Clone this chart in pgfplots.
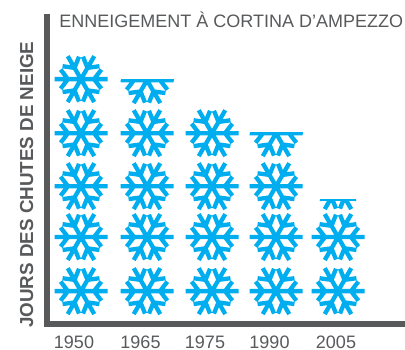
\documentclass[border=0pt]{standalone}
\usepackage{pgfplots}
\pgfplotsset{compat=1.18}
\usepackage{fontspec}
\setmainfont{Liberation Sans}
\definecolor{flakeblue}{HTML}{00AEEF}
\definecolor{bargray}{HTML}{58595B}
\newcommand{\flakespoke}[3]{%
  \pgfpathmoveto{\pgfpointorigin}\pgfpathlineto{\pgfpointpolar{#1}{26.5pt}}%
  \pgfpathmoveto{\pgfpointpolar{#1}{13pt}}\pgfpathlineto{\pgfpointpolar{#2}{22.5pt}}%
  \pgfpathmoveto{\pgfpointpolar{#1}{13pt}}\pgfpathlineto{\pgfpointpolar{#3}{22.5pt}}%
}
\newcommand{\flakeshape}{%
  \pgfsetstrokecolor{flakeblue}\pgfsetlinewidth{4.3pt}\pgfsetbuttcap
  \flakespoke{0}{25}{-25}%
  \flakespoke{60}{85}{35}%
  \flakespoke{120}{145}{95}%
  \flakespoke{180}{205}{155}%
  \flakespoke{240}{265}{215}%
  \flakespoke{300}{325}{275}%
  \pgfusepath{stroke}%
}
\newcommand{\cutat}[1]{%
  \pgfpathrectangle{\pgfpoint{-30pt}{-30pt}}{\pgfpoint{60pt}{\dimexpr30pt+#1\relax}}\pgfusepath{clip}%
}
\pgfdeclareplotmark{flake}{\flakeshape}
\pgfdeclareplotmark{halfflake}{%
  \pgfscope\cutat{0pt}\flakeshape\endpgfscope
  \pgfsetfillcolor{flakeblue}%
  \pgfpathrectangle{\pgfpoint{-26.5pt}{-1.2pt}}{\pgfpoint{53pt}{2.5pt}}\pgfusepath{fill}%
}
\pgfdeclareplotmark{tipflake}{%
  \pgfscope\cutat{-14pt}\flakeshape\endpgfscope
  \pgfsetfillcolor{flakeblue}%
  \pgfpathrectangle{\pgfpoint{-18pt}{-15.2pt}}{\pgfpoint{36pt}{2.4pt}}\pgfusepath{fill}%
}
\begin{document}
\begin{tikzpicture}[x=1pt,y=1pt]
\path[use as bounding box] (0,0) rectangle (405,349);
\begin{axis}[
  at={(47pt,25pt)},anchor=origin,
  scale only axis,width=358pt,height=307pt,
  xmin=47,xmax=405,ymin=0,ymax=5.792,
  clip=false,
  axis x line*=bottom,axis y line*=left,
  axis line style={line width=6.5pt,color=bargray,-,line cap=rect},
  xtick={74,140.5,205,269.5,336},
  xticklabels={1950,1965,1975,1990,2005},
  ytick=\empty,
  major tick length=0pt,
  xticklabel style={font=\fontsize{18}{20}\selectfont,text=bargray,inner sep=0pt,anchor=base,yshift=-24.5pt},
  title={ENNEIGEMENT À CORTINA D’AMPEZZO},
  title style={at={(axis description cs:0.034,1)},anchor=north west,inner sep=0pt,yshift=-1pt,
    font=\fontsize{18}{20}\selectfont,text=bargray},
  ylabel={\textbf{JOURS DES CHUTES DE NEIGE}},
  ylabel style={at={(axis description cs:-0.057,0.454)},anchor=center,rotate=0,inner sep=0pt,
    font=\fontsize{18.8}{20}\selectfont,text=bargray},
]
\addplot[only marks,mark=flake] coordinates {
 (81,0.62)(81,1.64)(81,2.60)(81,3.60)(81,4.62)
 (147,0.62)(147,1.64)(147,2.60)(147,3.60)
 (212,0.62)(212,1.64)(212,2.60)(212,3.60)
 (276,0.62)(276,1.64)(276,2.60)
 (338,0.62)(338,1.64)
};
\addplot[only marks,mark=halfflake] coordinates {(147,4.60)(276,3.60)};
\addplot[only marks,mark=tipflake] coordinates {(338,2.60)};
\end{axis}
\end{tikzpicture}
\end{document}
